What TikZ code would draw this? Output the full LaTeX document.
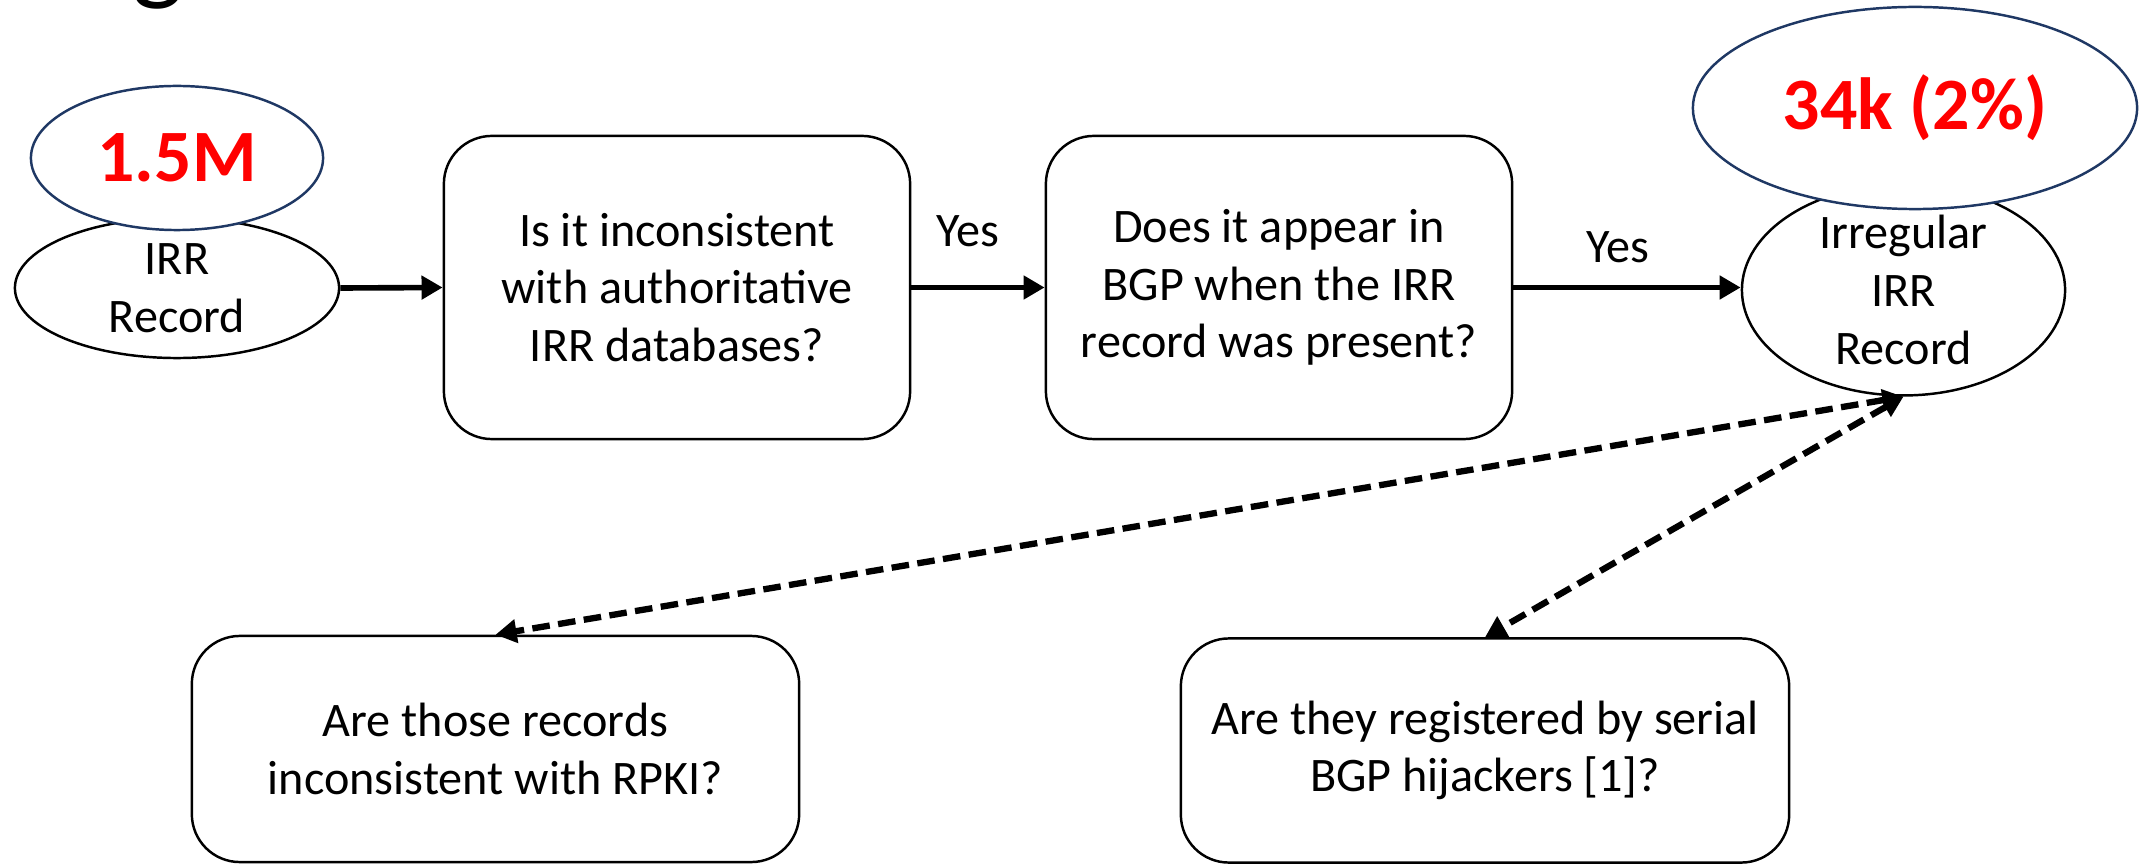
\documentclass[tikz,border=0pt]{standalone}
\usepackage{fontspec}
\setmainfont{Carlito}
\usetikzlibrary{arrows.meta,shapes.geometric}
\definecolor{navy}{RGB}{31,56,100}
\definecolor{hotred}{RGB}{255,0,0}

\begin{document}
\begin{tikzpicture}[x=0.01cm,y=-0.01cm,
  txt/.style={font=\fontsize{13.7}{16.4}\selectfont, align=center},
  ovalnode/.style={ellipse, draw=black, line width=0.7pt, fill=white, inner sep=0pt, txt},
  tallynode/.style={ellipse, draw=navy, line width=0.7pt, fill=white, inner sep=0pt,
    text=hotred, font=\fontsize{21}{25}\selectfont\bfseries},
  question/.style={rectangle, rounded corners=0.48cm, draw=black, line width=0.7pt, inner sep=0pt, txt},
  flowarrow/.style={line width=1.6pt, -{Triangle[length=6pt,width=6.5pt]}},
  dasharrow/.style={line width=1.8pt, dash pattern=on 5pt off 2.4pt,
    {Triangle[length=6pt,width=6pt]}-{Triangle[length=6pt,width=6.5pt]}},
]
\useasboundingbox (0,0) rectangle (2149,864);

% heading (only its lower edge falls inside the frame)
\node[anchor=base west, inner sep=0pt, font=\fontsize{31}{37}\selectfont] (ttl) at (132,-9) {g};

% input records
\node[ovalnode, minimum width=3.24cm, minimum height=1.40cm] (rec) at (177,288) {IRR\\Record};
\node[tallynode, minimum width=2.92cm, minimum height=1.44cm] (n15) at (177,158) {1.5M};

% checks
\node[question, minimum width=4.66cm, minimum height=3.03cm] (q1) at (677,287.5)
  {Is it inconsistent\\with authoritative\\IRR databases?};
\node[question, minimum width=4.66cm, minimum height=3.03cm] (q2) at (1279,287.5)
  {Does it appear in\\BGP when the IRR\\record was present?};

% result
\node[ovalnode, minimum width=3.23cm, minimum height=1.88cm] (irr) at (1903.5,290)
  {Irregular\\IRR\\Record};
\node[tallynode, minimum width=4.44cm, minimum height=2.02cm] (n34) at (1915,108) {34k (2\%)};

% follow-up questions
\node[question, minimum width=6.07cm, minimum height=2.26cm] (q3) at (495.5,749)
  {Are those records\\inconsistent with RPKI?};
\node[question, minimum width=6.08cm, minimum height=2.24cm] (q4) at (1485,750.5)
  {Are they registered by serial\\BGP hijackers [1]?};

% main flow
\draw[flowarrow] (rec.east) -- (q1.west);
\draw[flowarrow] (q1.east) -- (q2.west);
\draw[flowarrow] (q2.east) -- (q2.east -| irr.west);
\node[txt] (yes1) at (968,231) {Yes};
\node[txt] (yes2) at (1618,247) {Yes};

% branches
\draw[dasharrow] (irr.south) -- (q3.north);
\draw[dasharrow] (irr.south) -- (q4.north);
\end{tikzpicture}
\end{document}
